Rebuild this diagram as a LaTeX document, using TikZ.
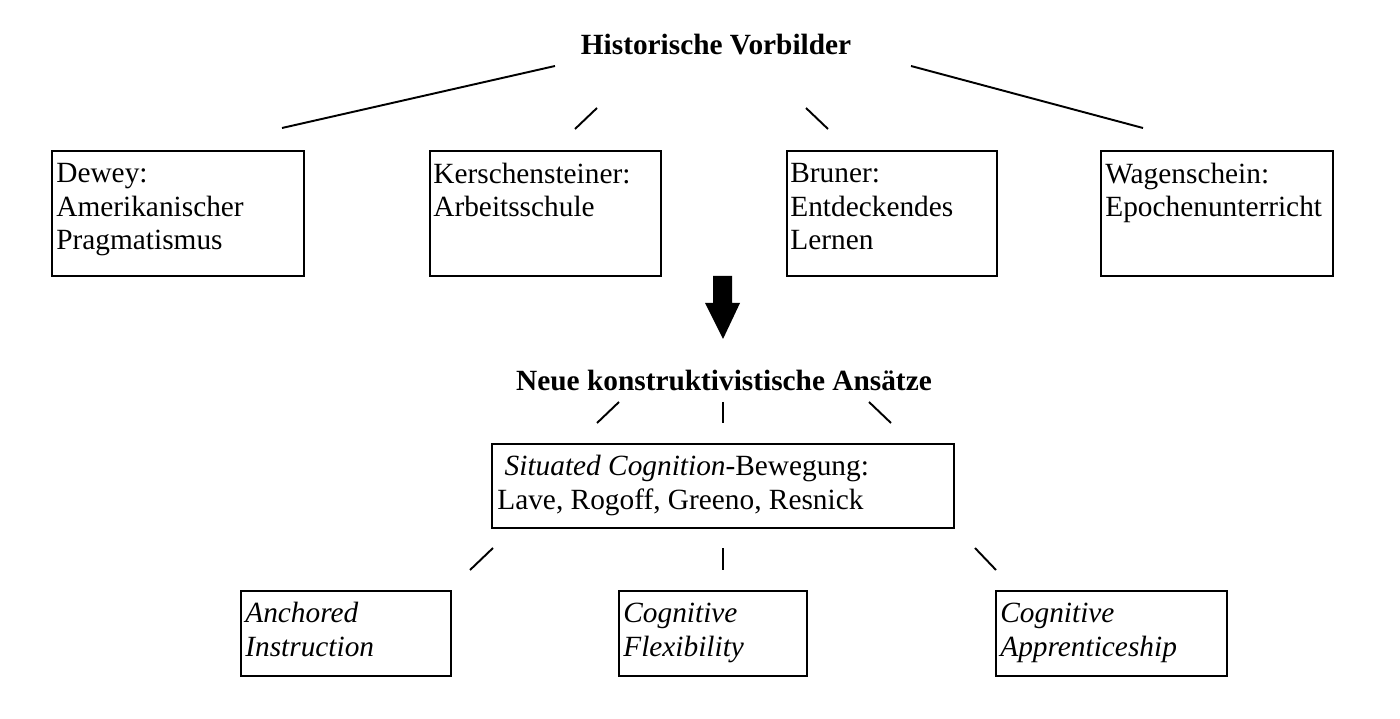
\documentclass[tikz,border=0pt]{standalone}
\usepackage{fontspec}
\setmainfont{Liberation Serif}
\usepackage{tikz}
\usetikzlibrary{positioning}

\tikzset{
  box/.style={draw, line width=1.4pt, anchor=north west, inner sep=0pt},
  txt/.style={anchor=base west, align=left, inner sep=0pt,
    font=\fontsize{16.7pt}{19.2pt}\selectfont},
  head/.style={anchor=base, inner sep=0pt,
    font=\fontsize{16.7pt}{19.2pt}\selectfont\bfseries},
  link/.style={line width=1.1pt}
}

\begin{document}
\begin{tikzpicture}[x=0.02cm, y=-0.02cm]
	\useasboundingbox (0,0) rectangle (1400,719);

	% historische Vorbilder
	\node[head] (hist) at (716,55) {Historische Vorbilder};
	\draw[link] (555,66) -- (282,128);
	\draw[link] (597,108) -- (575,129);
	\draw[link] (806,108) -- (828,129);
	\draw[link] (911,66) -- (1143,128);

	% (base = letzte Zeile)
	\node[box, minimum width=252*0.02cm, minimum height=125*0.02cm] (dewey) at (51,150) {};
	\node[txt] (deweyt) at (56,250) {Dewey:\\Amerikanischer\\Pragmatismus};
	\node[box, minimum width=231*0.02cm, minimum height=125*0.02cm] (kersch) at (429,150) {};
	\node[txt] (kerscht) at (433,217) {Kerschensteiner:\\Arbeitsschule};
	\node[box, minimum width=210*0.02cm, minimum height=125*0.02cm] (bruner) at (786,150) {};
	\node[txt] (brunert) at (790,250) {Bruner:\\Entdeckendes\\Lernen};
	\node[box, minimum width=232*0.02cm, minimum height=125*0.02cm] (wagen) at (1100,150) {};
	\node[txt] (wagent) at (1105,217) {Wagenschein:\\Epochenunterricht};

	% Pfeil
	\fill (713,276) -- (732,276) -- (732,303) -- (740,303) -- (723,339)
		-- (705,303) -- (713,303) -- cycle;

	% neue Ansaetze
	\node[head] (neu) at (724,391) {Neue konstruktivistische Ans\"atze};
	\draw[link] (619,402) -- (597,423);
	\draw[link] (723,402) -- (723,423);
	\draw[link] (869,402) -- (891,423);

	\node[box, minimum width=462*0.02cm, minimum height=84*0.02cm] (situ) at (491,443) {};
	\node[txt] (situt) at (497,509) {\ \textit{Situated Cognition}-Bewegung:\\Lave, Rogoff, Greeno, Resnick};

	\draw[link] (493,548) -- (470,570);
	\draw[link] (723,548) -- (723,570);
	\draw[link] (975,548) -- (996,570);

	\node[box, minimum width=210*0.02cm, minimum height=85*0.02cm] (anch) at (240,590) {};
	\node[txt] (ancht) at (245,656) {\itshape Anchored\\\itshape Instruction};
	\node[box, minimum width=188*0.02cm, minimum height=85*0.02cm] (flex) at (618,590) {};
	\node[txt] (flext) at (623,656) {\itshape Cognitive\\\itshape Flexibility};
	\node[box, minimum width=231*0.02cm, minimum height=85*0.02cm] (appr) at (995,590) {};
	\node[txt] (apprt) at (1000,656) {\itshape Cognitive\\\itshape Apprenticeship};

\end{tikzpicture}
\end{document}
